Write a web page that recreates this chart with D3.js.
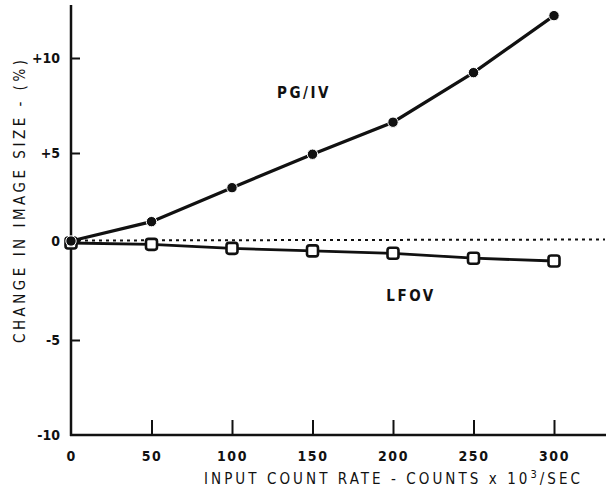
<!DOCTYPE html>
<html>
<head>
<meta charset="utf-8">
<script src="https://cdn.jsdelivr.net/npm/d3@7"></script>
<style>
  html, body { margin: 0; padding: 0; background: #fff; }
  svg { display: block; }
  text { font-family: "DejaVu Sans Condensed", "DejaVu Sans", sans-serif; fill: #111; }
</style>
</head>
<body>
<div id="chart"></div>
<script>
// ---- data ----
const countRates = [0, 50, 100, 150, 200, 250, 300];
const pgivChange = [0, 1.1, 3.03, 4.93, 6.62, 9.23, 12.23];
const lfovChange = [-0.1, -0.17, -0.37, -0.5, -0.62, -0.87, -1.01];
const xTicks = [0, 50, 100, 150, 200, 250, 300];
const yTicks = [-10, -5, 0, 5, 10];
const yTickLabels = ["-10", "-5", "0", "+5", "+10"];

// ---- layout ----
const W = 607, H = 495;
const svg = d3.select("#chart").append("svg").attr("width", W).attr("height", H);

const x = d3.scaleLinear().domain([0, 300]).range([71, 554]);
const y = d3.scaleLinear().domain([-10, -5, 0, 5, 10]).range([435, 340, 241, 153, 58]);

const ink = "#111";

// axes lines
svg.append("line").attr("x1", x(0)).attr("x2", x(0)).attr("y1", 5).attr("y2", y(-10) + 1)
  .attr("stroke", ink).attr("stroke-width", 2.5);
svg.append("line").attr("x1", x(0) - 1).attr("x2", W - 1).attr("y1", y(-10)).attr("y2", y(-10))
  .attr("stroke", ink).attr("stroke-width", 2.5);

// y axis ticks (inward) + labels
const yAxis = d3.axisLeft(y).tickValues(yTicks)
  .tickFormat((d, i) => yTickLabels[i]).tickSizeInner(-9).tickSizeOuter(0).tickPadding(11);
const gy = svg.append("g").attr("transform", `translate(${x(0)},0)`).call(yAxis);
gy.select(".domain").remove();
gy.selectAll(".tick line").attr("stroke", ink).attr("stroke-width", 2);
gy.selectAll(".tick").filter(d => d === -10).select("line").remove();
gy.selectAll(".tick text").attr("font-size", 14).attr("font-weight", "bold")
  .attr("font-family", "'DejaVu Sans Condensed', sans-serif").attr("fill", ink);

// x axis ticks (inward) + labels
const xAxis = d3.axisBottom(x).tickValues(xTicks).tickFormat(d3.format("d"))
  .tickSizeInner(-15).tickSizeOuter(0).tickPadding(16);
const gx = svg.append("g").attr("transform", `translate(0,${y(-10)})`).call(xAxis);
gx.select(".domain").remove();
gx.selectAll(".tick line").attr("stroke", ink).attr("stroke-width", 2);
gx.selectAll(".tick").filter(d => d === 0).select("line").remove();
gx.selectAll(".tick text").attr("font-size", 14).attr("font-weight", "bold")
  .attr("letter-spacing", 1.5)
  .attr("font-family", "'DejaVu Sans Condensed', sans-serif").attr("fill", ink);

// zero dotted reference line
svg.append("line").attr("x1", x(0)).attr("x2", W - 2).attr("y1", y(0) - 0.5).attr("y2", y(0) - 1.5)
  .attr("stroke", ink).attr("stroke-width", 2).attr("stroke-dasharray", "3,4");

const pg = countRates.map((r, i) => [r, pgivChange[i]]);
const lf = countRates.map((r, i) => [r, lfovChange[i]]);
const line = d3.line().x(d => x(d[0])).y(d => y(d[1]));

svg.append("path").datum(lf).attr("d", line).attr("fill", "none")
  .attr("stroke", ink).attr("stroke-width", 2.8);
svg.append("path").datum(pg).attr("d", line).attr("fill", "none")
  .attr("stroke", ink).attr("stroke-width", 3.2);

// LFOV squares
svg.selectAll("rect.lf").data(lf).enter().append("rect").attr("class", "lf")
  .attr("x", d => x(d[0]) - 5.5).attr("y", d => y(d[1]) - 5.5)
  .attr("width", 11).attr("height", 11).attr("rx", 2.5)
  .attr("fill", "#fff").attr("stroke", ink).attr("stroke-width", 2.6);

// PG/IV circles
svg.selectAll("circle.pg").data(pg).enter().append("circle").attr("class", "pg")
  .attr("cx", d => x(d[0])).attr("cy", d => y(d[1])).attr("r", 5.2)
  .attr("fill", ink).attr("stroke", "#fff").attr("stroke-width", 1);

// series labels
svg.append("text").attr("x", 304).attr("y", 98).attr("text-anchor", "middle")
  .attr("font-size", 15).attr("font-weight", "bold").attr("letter-spacing", 2.5).text("PG/IV");
svg.append("text").attr("x", 411).attr("y", 301).attr("text-anchor", "middle")
  .attr("font-size", 15).attr("font-weight", "bold").attr("letter-spacing", 2.5).text("LFOV");

// axis titles
const xt = svg.append("text").attr("x", 204).attr("y", 484)
  .attr("font-size", 15).attr("textLength", 376).attr("lengthAdjust", "spacing");
xt.append("tspan").text("INPUT COUNT RATE - COUNTS x 10");
xt.append("tspan").attr("dy", -6).attr("font-size", 11).text("3");
xt.append("tspan").attr("dy", 6).text("/SEC");

svg.append("text").attr("transform", "translate(25,343) rotate(-90)")
  .attr("font-size", 15).attr("textLength", 283).attr("lengthAdjust", "spacing")
  .text("CHANGE IN IMAGE SIZE - (%)");
</script>
</body>
</html>
